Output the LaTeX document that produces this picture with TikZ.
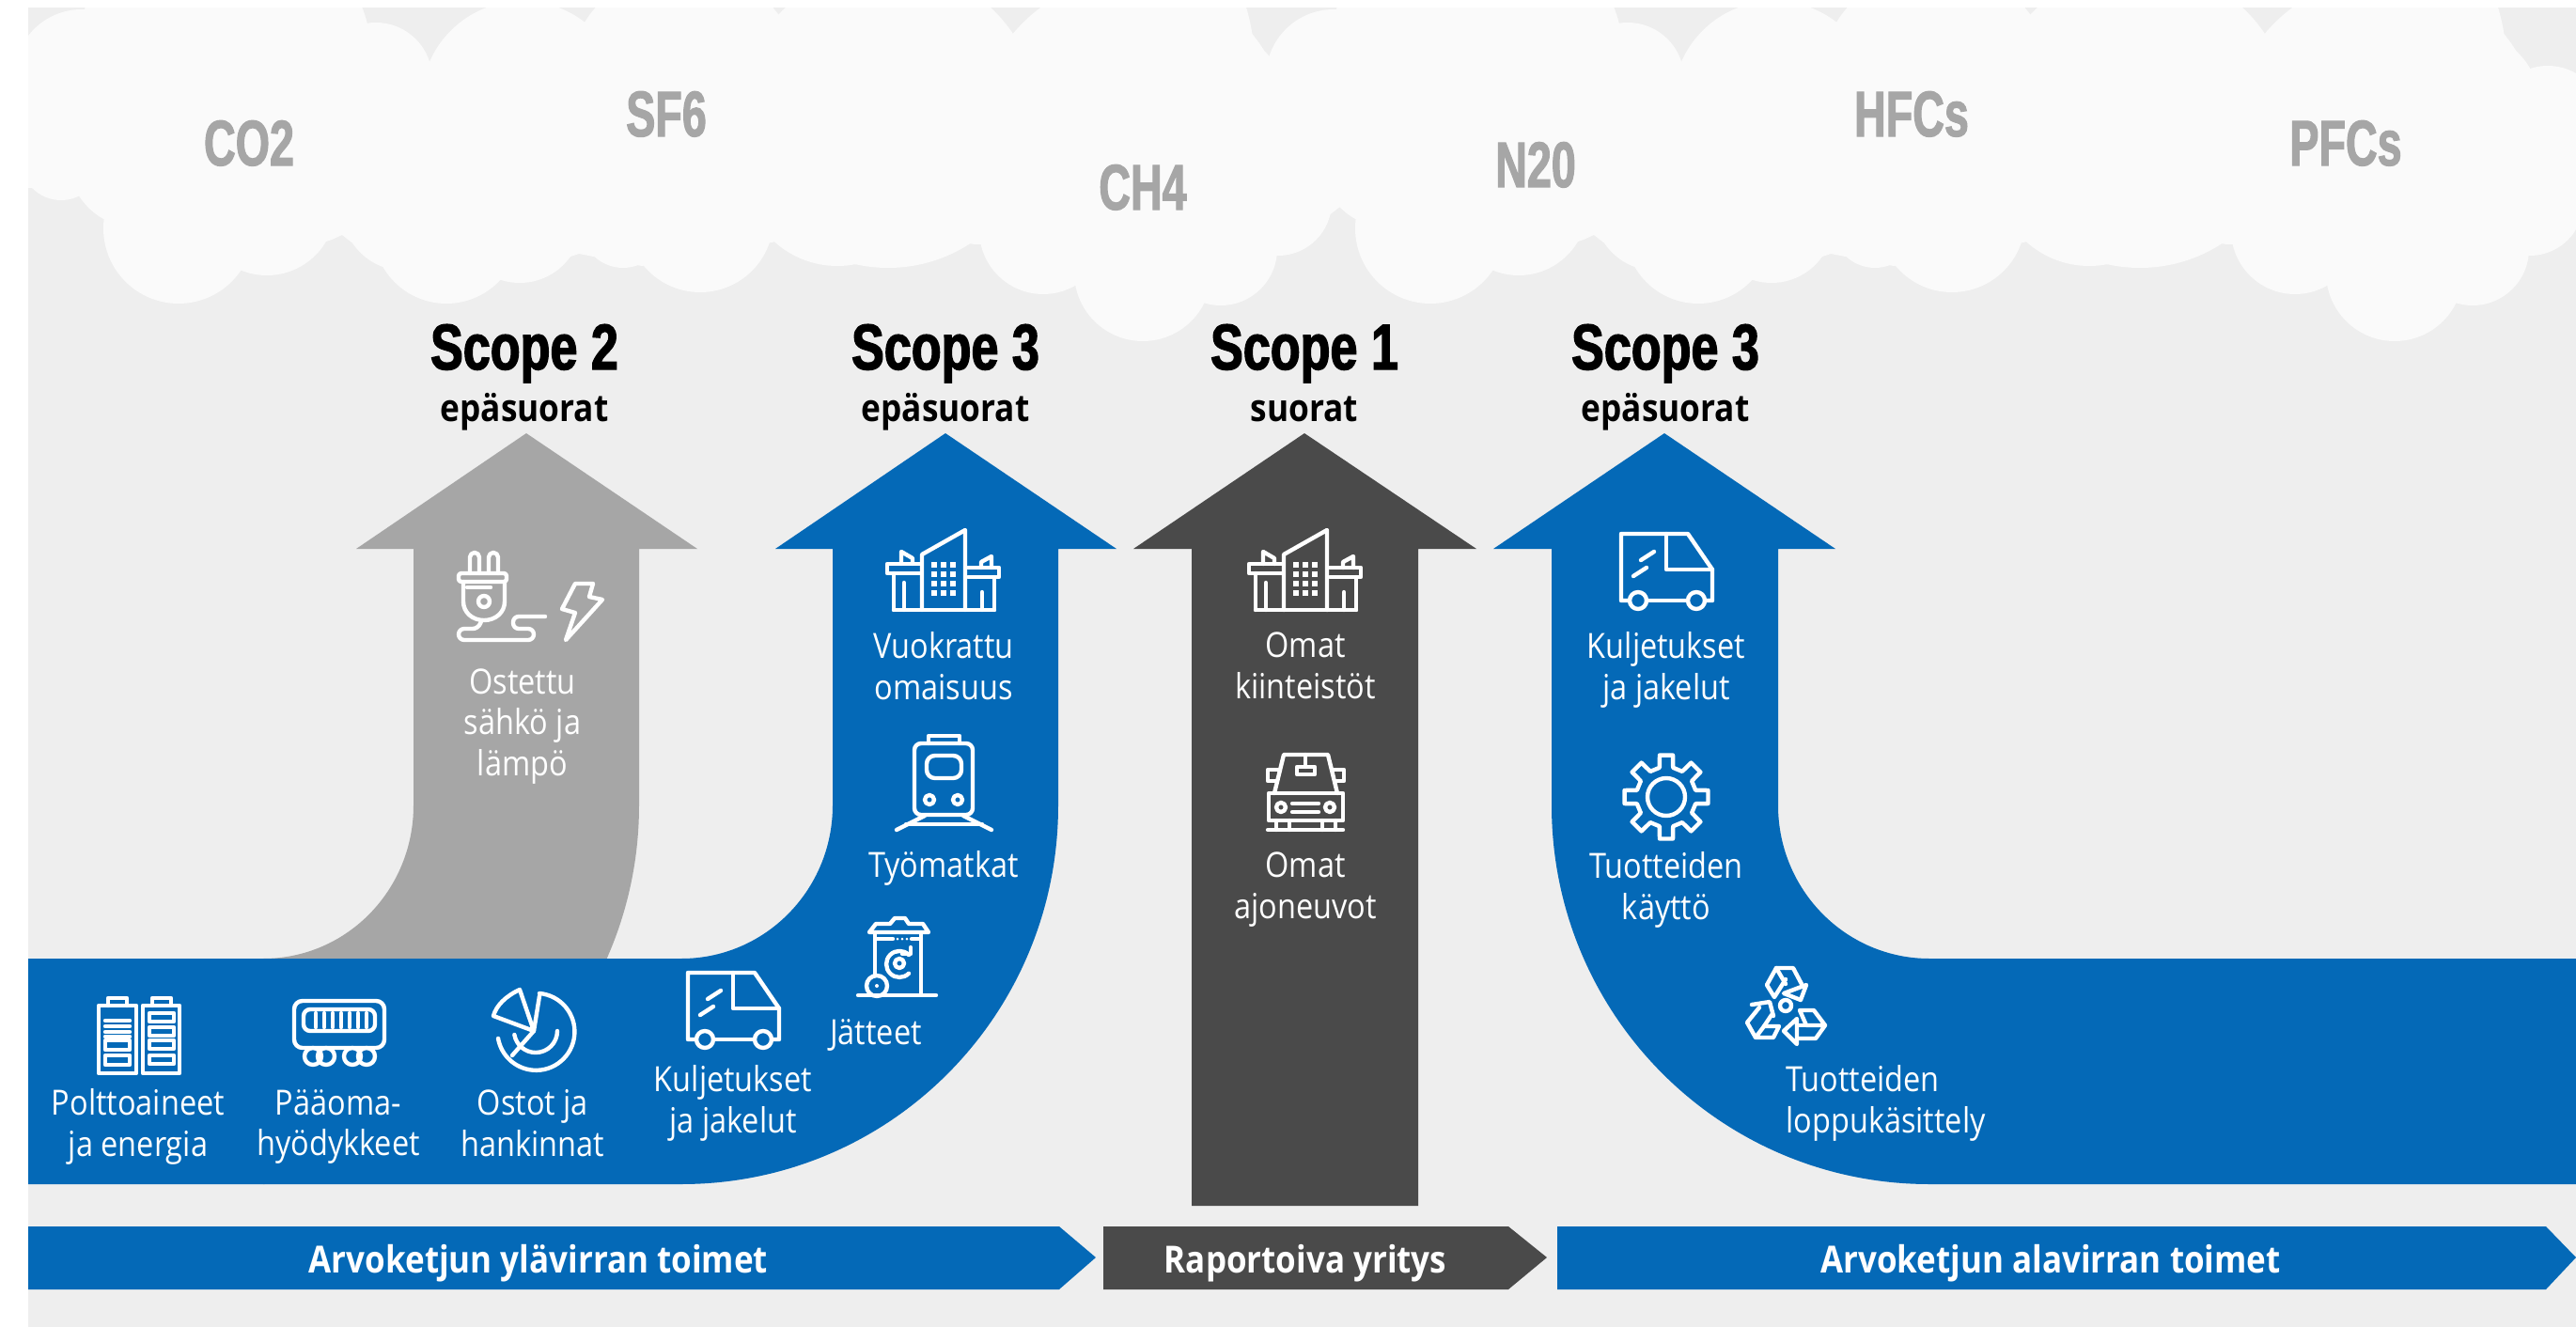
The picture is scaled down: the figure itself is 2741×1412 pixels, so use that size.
\documentclass[tikz,border=0pt]{standalone}
\usepackage{fontspec}
\setmainfont[FakeStretch=0.88]{Open Sans}
\newfontfamily\gasfont[FakeStretch=0.68,FakeBold=1.6]{Liberation Sans Bold}
\newfontfamily\headfont[FakeStretch=0.76,FakeBold=2]{Liberation Sans Bold}
\definecolor{sheetgray}{HTML}{EEEEEE}
\definecolor{cloudwhite}{HTML}{FAFAFA}
\definecolor{gasgray}{HTML}{A6A6A6}
\definecolor{darkgray}{HTML}{4A4A4A}
\definecolor{scopeblue}{HTML}{0469B7}

\tikzset{
    gaslabel/.style={anchor=base,text=gasgray,font=\gasfont\fontsize{19.5}{22}\selectfont},
    scopelabel/.style={anchor=base,text=black,font=\headfont\fontsize{19.5}{22}\selectfont},
    scopesub/.style={anchor=base,text=black,font=\bfseries\fontsize{11.4}{13}\selectfont},
    itemlabel/.style={text=white,align=center,font=\fontsize{10.5}{12.5}\selectfont},
    barlabel/.style={text=white,font=\bfseries\fontsize{11.3}{13}\selectfont},
    iconline/.style={draw=white,line width=1.25pt,line join=round,line cap=round},
    truck/.pic={
        \draw[iconline] (8,71) -- (0,71) -- (0,0) -- (71,0) -- (97,38) -- (97,71) -- (90,71);
        \draw[iconline] (28,71) -- (70,71);
        \draw[iconline] (48,0) -- (48,38) -- (97,38);
        \draw[iconline] (21,28) -- (35,19);
        \draw[iconline] (13,45) -- (27,36);
        \draw[iconline] (18,71) circle (9);
        \draw[iconline] (80,71) circle (9);
    },
    office/.pic={
        \draw[iconline] (37,86) -- (37,27) -- (83,1) -- (83,86);
        \draw[iconline] (7,86) -- (114,86);
        \draw[iconline] (7,47) -- (7,86);
        \draw[iconline] (114,51) -- (114,86);
        \draw[iconline] (35,37) -- (0,37) -- (0,47) -- (35,47);
        \draw[iconline] (86,41) -- (119,41) -- (119,51) -- (86,51);
        \draw[iconline] (15,37) -- (15,24) -- (27,31) -- (27,37);
        \draw[iconline] (100,41) -- (100,35) -- (111,29) -- (111,41);
        \draw[iconline] (18,57) -- (18,86);
        \draw[iconline] (101,67) -- (101,86);
        \foreach \col in {50,60,70} {
            \foreach \row in {38,48,58,68} {
                \fill[white] (\col-3,\row-3) rectangle (\col+3,\row+3);
            }
        }
    }
}

\begin{document}
\begin{tikzpicture}[x=0.01cm,y=-0.01cm]
    \useasboundingbox (0,0) rectangle (2741,1412);
    \fill[sheetgray] (30,8) rectangle (2741,1412);

    % Clouds
    \begin{scope}
        \clip (30,8) rectangle (2741,1412);
        \fill[cloudwhite] (30,90) rectangle (2741,200);
        \fill[cloudwhite] (65,170) circle (43);
        \fill[cloudwhite] (2711,130) circle (60);
        \foreach \dx in {0,1332} {
            \foreach \x/\y/\r in {87/82/72,238/65/158,400/84/60,556/109/108,728/90/125,945/125/160,
                1205/141/165,1295/110/75,145/170/72,190/243/80,284/220/73,430/222/66,475/245/78,
                553/235/66,663/240/45,745/233/78,891/183/100,1040/215/45,1110/245/68,1216/290/73,
                1299/265/60,1360/215/57} {
                \fill[cloudwhite] (\dx+\x,\y) circle (\r);
            }
            \fill[cloudwhite] (\dx+1235,70) ellipse [x radius=100,y radius=150];
            \fill[cloudwhite] (\dx+94,190) -- (\dx+94,218) -- (\dx+110,230) -- (\dx+257,287)
                -- (\dx+353,255) -- (\dx+364,250) -- (\dx+406,283) -- (\dx+533,298) -- (\dx+616,270)
                -- (\dx+683,283) -- (\dx+821,258) -- (\dx+991,213) -- (\dx+1056,257) -- (\dx+1154,293)
                -- (\dx+1275,318) -- (\dx+1358,272) -- (\dx+1426,220) -- (\dx+1426,190) -- cycle;
        }
    \end{scope}

    % Gases
    \node[gaslabel] (co2) at (265,176) {CO2};
    \node[gaslabel] (sf6) at (709,145) {SF6};
    \node[gaslabel] (ch4) at (1216,223) {CH4};
    \node[gaslabel] (n2o) at (1634,199) {N20};
    \node[gaslabel] (hfcs) at (2034,145) {HFCs};
    \node[gaslabel] (pfcs) at (2496,176) {PFCs};

    % Scope 2 arrow
    \fill[gasgray] (560,461) -- (742,584) -- (680,584) -- (680,857)
        .. controls (680,1078) and (501,1260) .. (280,1260) -- (280,1020)
        .. controls (369,1020) and (440,947) .. (440,857) -- (440,584) -- (379,584) -- cycle;

    % Scope 3 upstream arrow
    \fill[scopeblue] (30,1020) -- (725,1020) .. controls (814,1020) and (886,947) .. (886,857)
        -- (886,584) -- (825,584) -- (1006,461) -- (1188,584) -- (1126,584) -- (1126,857)
        .. controls (1126,1080) and (947,1260) .. (725,1260) -- (30,1260) -- cycle;

    % Scope 1 arrow
    \fill[darkgray] (1388,461) -- (1571,584) -- (1509,584) -- (1509,1283) -- (1268,1283)
        -- (1268,584) -- (1206,584) -- cycle;

    % Scope 3 downstream arrow
    \fill[scopeblue] (1771,461) -- (1953,584) -- (1892,584) -- (1892,857)
        .. controls (1892,947) and (1964,1020) .. (2053,1020) -- (2741,1020) -- (2741,1260)
        -- (2053,1260) .. controls (1831,1260) and (1651,1080) .. (1651,857) -- (1651,584)
        -- (1589,584) -- cycle;

    % Bottom bars
    \fill[scopeblue] (30,1305) -- (1127,1305) -- (1166,1338) -- (1127,1372) -- (30,1372) -- cycle;
    \fill[darkgray] (1174,1305) -- (1605,1305) -- (1646,1338) -- (1605,1372) -- (1174,1372) -- cycle;
    \fill[scopeblue] (1657,1305) -- (2709,1305) -- (2741,1338) -- (2709,1372) -- (1657,1372) -- cycle;
    \node[barlabel] (upbar) at (573,1344) {Arvoketjun ylävirran toimet};
    \node[barlabel] (midbar) at (1389,1344) {Raportoiva yritys};
    \node[barlabel] (downbar) at (2182,1344) {Arvoketjun alavirran toimet};

    % Headings
    \node[scopelabel] (scopeb) at (558,393) {Scope 2};
    \node[scopelabel] (scopec) at (1006,393) {Scope 3};
    \node[scopelabel] (scopea) at (1388,393) {Scope 1};
    \node[scopelabel] (scoped) at (1772,393) {Scope 3};
    \node[scopesub] (subb) at (558,448) {epäsuorat};
    \node[scopesub] (subc) at (1006,448) {epäsuorat};
    \node[scopesub] (suba) at (1388,448) {suorat};
    \node[scopesub] (subd) at (1772,448) {epäsuorat};

    % Item labels
    \node[itemlabel] (fuel) at (147,1199) {Polttoaineet\\ja energia};
    \node[itemlabel] (capital) at (360,1199) {Pääoma-\\hyödykkeet};
    \node[itemlabel] (purchase) at (567,1195) {Ostot ja\\hankinnat};
    \node[itemlabel] (haulup) at (780,1174) {Kuljetukset\\ja jakelut};
    \node[itemlabel] (waste) at (932,1102) {Jätteet};
    \node[itemlabel] (leased) at (1004,709) {Vuokrattu\\omaisuus};
    \node[itemlabel] (commute) at (1004,924) {Työmatkat};
    \node[itemlabel] (power) at (556,773) {Ostettu\\sähkö ja\\lämpö};
    \node[itemlabel] (estate) at (1389,708) {Omat\\kiinteistöt};
    \node[itemlabel] (fleet) at (1389,947) {Omat\\ajoneuvot};
    \node[itemlabel] (hauldown) at (1773,713) {Kuljetukset\\ja jakelut};
    \node[itemlabel] (usage) at (1773,947) {Tuotteiden\\käyttö};
    \node[itemlabel,align=left,anchor=west] (endlife) at (1888,1174) {Tuotteiden\\loppukäsittely};

    % Trucks and offices
    \pic at (732,1035) {truck};
    \pic at (1725,568) {truck};
    \pic at (944,563) {office};
    \pic at (1329,563) {office};

    % Batteries
    \draw[iconline] (105,1070) rectangle (145,1142);
    \draw[iconline] (152,1070) rectangle (191,1142);
    \draw[iconline] (115,1070) -- (115,1062) -- (135,1062) -- (135,1070);
    \draw[iconline] (162,1070) -- (162,1062) -- (182,1062) -- (182,1070);
    \foreach \y in {1086,1092,1098,1103} {
        \draw[iconline] (112,\y) -- (138,\y);
    }
    \foreach \y in {1107,1123} {
        \draw[iconline] (112,\y) rectangle (138,\y+10);
    }
    \foreach \y in {1078,1093,1107,1123} {
        \draw[iconline] (159,\y) rectangle (185,\y+9);
    }

    % Capital goods
    \draw[iconline,rounded corners=2.5pt] (313,1065) rectangle (409,1115);
    \draw[iconline,rounded corners=2pt] (323,1074) rectangle (399,1097);
    \foreach \x in {336,345,354,363,372,381,390} {
        \draw[iconline] (\x,1078) -- (\x,1093);
    }
    \foreach \x in {333,347,375,390} {
        \draw[iconline] (\x,1124) circle (9);
    }

    % Purchases
    \draw[iconline] (574,1057) arc [start angle=-85,end angle=170,radius=41];
    \draw[iconline] (553,1053) .. controls (538,1060) and (528,1070) .. (525,1081) -- (568,1097) -- cycle;
    \draw[iconline] (574,1060) -- (568,1097) -- (545,1123);
    \draw[iconline] (593,1097) arc [start angle=0,end angle=170,radius=23];

    % Plug
    \draw[iconline,rounded corners=1.4pt] (500,610) -- (500,588) -- (510,588) -- (510,610);
    \draw[iconline,rounded corners=1.4pt] (520,610) -- (520,588) -- (530,588) -- (530,610);
    \draw[iconline,rounded corners=0.8pt] (488,610) rectangle (539,619);
    \draw[iconline] (493,619) -- (493,640) .. controls (493,652) and (503,660) .. (515,660)
        .. controls (527,660) and (537,652) .. (537,640) -- (537,619);
    \draw[iconline] (497,625) -- (522,625);
    \draw[iconline] (515,640) circle (6);
    \draw[iconline,rounded corners=1.7pt] (512,661) -- (509,669) -- (488,669) -- (488,681)
        -- (568,681) -- (568,669) -- (546,669) -- (546,656) -- (580,656);
    \draw[iconline] (612,621) -- (631,621) -- (627,635) -- (641,638) -- (602,681) -- (612,652) -- (598,648) -- cycle;

    % Train
    \draw[iconline,rounded corners=2pt] (973,791) rectangle (1035,867);
    \draw[iconline] (988,791) -- (988,783) -- (1021,783) -- (1021,791);
    \draw[iconline,rounded corners=2.5pt] (986,804) rectangle (1023,828);
    \draw[iconline] (989,851) circle (5);
    \draw[iconline] (1019,851) circle (5);
    \draw[iconline] (954,883) -- (984,868);
    \draw[iconline] (1025,868) -- (1055,883);
    \draw[iconline] (964,877) -- (1045,877);

    % Waste bin
    \draw[iconline] (925,992) -- (932,983) -- (947,983) -- (952,977) -- (963,977) -- (967,983)
        -- (982,983) -- (988,992) -- cycle;
    \draw[iconline] (931,992) -- (931,1038);
    \draw[iconline] (980,992) -- (980,1058);
    \draw[iconline] (932,999) -- (950,999);
    \draw[iconline] (970,999) -- (980,999);
    \fill[white] (955,999) circle (1.5) (960,999) circle (1.5) (965,999) circle (1.5);
    \draw[iconline] (913,1059) -- (996,1059);
    \draw[iconline] (933,1049) circle (11);
    \fill[white] (933,1049) circle (2);
    \draw[iconline] (967,1016) arc [start angle=-45,end angle=-315,radius=14];
    \draw[iconline] (960,1015) -- (969,1015) -- (969,1008);
    \draw[iconline] (957,1025) circle (5);

    % Car
    \draw[iconline] (1356,844) -- (1366,803) -- (1413,803) -- (1423,844);
    \draw[iconline] (1389,803) -- (1389,816);
    \draw[iconline] (1380,816) rectangle (1399,824);
    \draw[iconline] (1360,819) -- (1349,819) -- (1349,831) -- (1358,831);
    \draw[iconline] (1419,819) -- (1430,819) -- (1430,831) -- (1421,831);
    \draw[iconline] (1350,844) rectangle (1429,873);
    \draw[iconline] (1363,859) circle (5);
    \draw[iconline] (1415,859) circle (5);
    \draw[iconline] (1375,855) -- (1403,855);
    \draw[iconline] (1375,864) -- (1403,864);
    \draw[iconline] (1349,883) -- (1429,883);
    \foreach \x in {1358,1372,1407,1421} {
        \draw[iconline] (\x,873) -- (\x,883);
    }

    % Gear
    \begin{scope}[shift={(1773,848)}]
        \draw[iconline] (-9:45) \foreach \a in {0,45,...,315} {
            -- (\a-9:45) -- (\a+9:45) -- (\a+13:32) -- (\a+32:32)
        } -- cycle;
        \draw[iconline] (0,0) circle (20);
    \end{scope}

    % Recycling
    \draw[iconline] (1917,1047) -- (1908,1030) -- (1890,1030) -- (1880,1048) -- (1888,1061) -- (1900,1042);
    \draw[iconline] (1890,1030) -- (1900,1047);
    \draw[iconline] (1898,1057) -- (1922,1048) -- (1916,1064) -- cycle;
    \draw[iconline] (1864,1069) -- (1883,1066) -- (1887,1081);
    \draw[iconline] (1872,1072) -- (1859,1088) -- (1868,1104) -- (1887,1104) -- (1893,1092) -- (1877,1092) -- (1868,1104);
    \draw[iconline] (1877,1092) -- (1885,1080);
    \draw[iconline] (1912,1084) -- (1898,1097) -- (1912,1111) -- cycle;
    \draw[iconline] (1912,1105) -- (1932,1105) -- (1942,1091) -- (1930,1075) -- (1915,1075) -- (1922,1091) -- (1942,1091);
    \draw[iconline] (1912,1091) -- (1922,1091);
    \draw[iconline] (1900,1070) circle (6);
\end{tikzpicture}
\end{document}
